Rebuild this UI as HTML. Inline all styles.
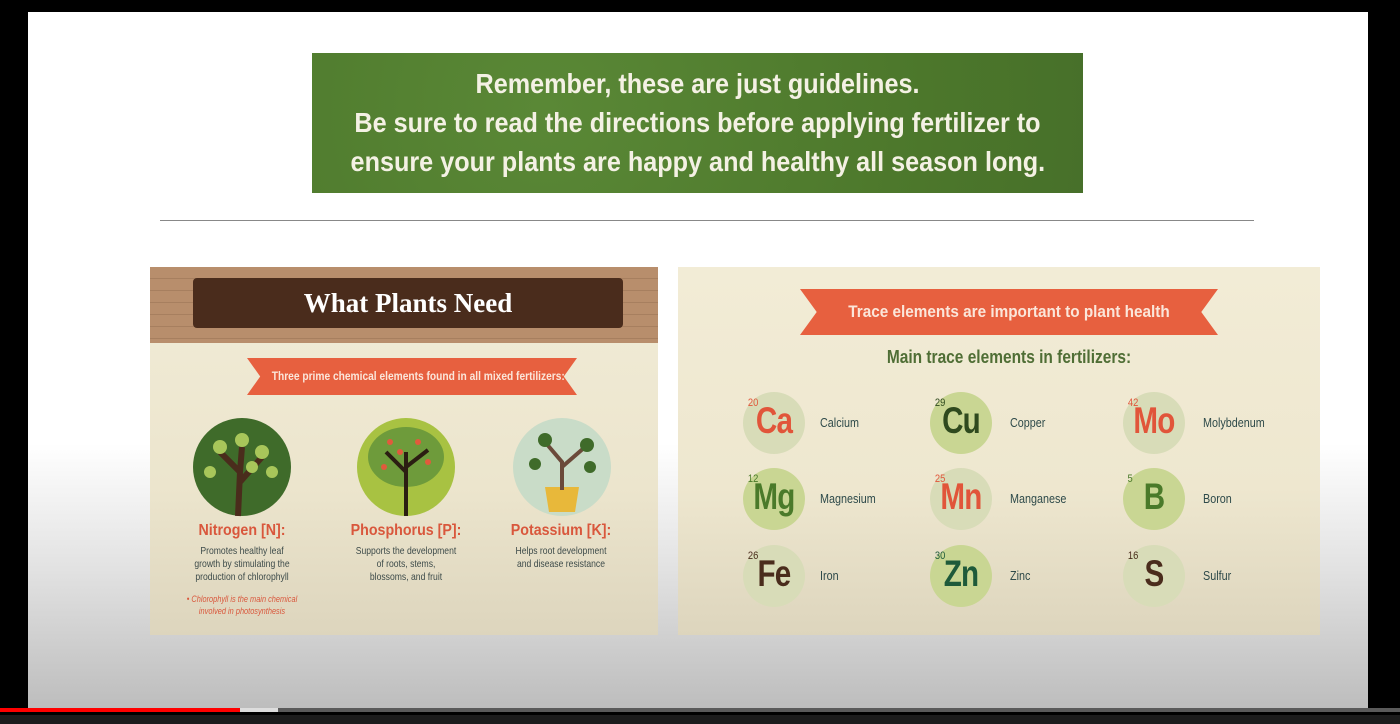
<!DOCTYPE html>
<html><head><meta charset="utf-8"><style>
*{margin:0;padding:0;box-sizing:border-box}
body{width:1400px;height:724px;overflow:hidden;background:#000;position:relative;font-family:"Liberation Sans",sans-serif}
.abs{position:absolute}
#slide{left:28px;top:12px;width:1340px;height:696px;background:linear-gradient(#fff 0%,#fff 62%,#e2e2e2 80%,#bdbdbd 100%)}
.c{text-align:center;white-space:nowrap}
.el{position:absolute;width:62px;height:62px;border-radius:50%;}
.sym{position:absolute;left:0;width:62px;top:8px;text-align:center;font-size:37px;font-weight:bold;letter-spacing:-1px;transform:scaleX(0.8)}
.num{position:absolute;left:4px;top:5px;font-size:11px;transform:scaleX(0.85)}
.nm{position:absolute;font-size:13px;color:#2e4a4a;white-space:nowrap;transform:scaleX(0.83);transform-origin:left center}
</style></head><body>
<div class="abs" id="slide"></div>
<div class="abs" style="left:312px;top:53px;width:771px;height:140px;background:radial-gradient(circle at 30% 40%,#5a8836,#4c772b 70%,#47702a)">
<div class="c" style="color:#f4f1e4;font-weight:bold;font-size:28px;line-height:39px;padding-top:11px;transform:scaleX(0.9)">Remember, these are just guidelines.<br>Be sure to read the directions before applying fertilizer to<br>ensure your plants are happy and healthy all season long.</div></div>
<div class="abs" style="left:160px;top:220px;width:1094px;height:1px;background:#888"></div>

<div class="abs" style="left:150px;top:267px;width:508px;height:368px;background:linear-gradient(#f1ecd7,#ece5cd 60%,#ddd5bd)">
 <div class="abs" style="left:0;top:0;width:508px;height:76px;background:repeating-linear-gradient(#b88e6c 0 11px,#a77f5f 11px 12px)"></div>
 <div class="abs" style="left:43px;top:11px;width:430px;height:50px;background:#4a2c1c;border-radius:4px"><div class="c" style="font-family:'Liberation Serif',serif;font-weight:bold;color:#fff;font-size:27px;line-height:50px">What Plants Need</div></div>
 <div class="abs" style="left:97px;top:91px;width:330px;height:37px;background:#e7603f;clip-path:polygon(0 0,100% 0,96% 50%,100% 100%,0 100%,4% 50%)"><div class="c" style="color:#fbe6da;font-weight:bold;font-size:12px;line-height:37px;transform:scaleX(0.85)">Three prime chemical elements found in all mixed fertilizers:</div></div>
 <svg class="abs" style="left:0;top:145px" width="508" height="110">
  <circle cx="92" cy="55" r="49" fill="#3f6b2a"/><path d="M88 104 L90 60 L70 40 M90 70 L112 45 M90 60 L92 35" stroke="#4a2c1c" stroke-width="6" fill="none"/>
  <g fill="#a8c65a"><circle cx="70" cy="35" r="7"/><circle cx="112" cy="40" r="7"/><circle cx="92" cy="28" r="7"/><circle cx="60" cy="60" r="6"/><circle cx="122" cy="60" r="6"/><circle cx="102" cy="55" r="6"/></g>
  <circle cx="256" cy="55" r="49" fill="#a8c242"/><ellipse cx="256" cy="45" rx="38" ry="30" fill="#6e9b3b"/><path d="M256 104 V40 M256 60 L236 40 M256 55 L278 38" stroke="#2b1e12" stroke-width="4" fill="none"/>
  <g fill="#e15a3c"><circle cx="240" cy="30" r="3"/><circle cx="268" cy="30" r="3"/><circle cx="278" cy="50" r="3"/><circle cx="234" cy="55" r="3"/><circle cx="250" cy="40" r="3"/></g>
  <circle cx="412" cy="55" r="49" fill="#c9dcc8"/><path d="M395 75 h34 l-4 25 h-26z" fill="#e8b83a"/><path d="M412 78 V50 L395 30 M412 55 L435 35" stroke="#6b4a3a" stroke-width="4" fill="none"/>
  <g fill="#3f6b2a"><circle cx="395" cy="28" r="7"/><circle cx="437" cy="33" r="7"/><circle cx="385" cy="52" r="6"/><circle cx="440" cy="55" r="6"/></g>
 </svg>
 <div class="abs c" style="left:22px;top:255px;width:140px;color:#d9573c;font-weight:bold;font-size:16px;transform:scaleX(0.89)">Nitrogen [N]:</div>
 <div class="abs c" style="left:22px;top:278px;width:140px;color:#3d4b4a;font-size:10.5px;line-height:13px;transform:scaleX(0.82)">Promotes healthy leaf<br>growth by stimulating the<br>production of chlorophyll</div>
 <div class="abs c" style="left:22px;top:326px;width:140px;color:#d9573c;font-style:italic;font-size:9px;line-height:12px;transform:scaleX(0.82)">• Chlorophyll is the main chemical<br>involved in photosynthesis</div>
 <div class="abs c" style="left:176px;top:255px;width:160px;color:#d9573c;font-weight:bold;font-size:16px;transform:scaleX(0.89)">Phosphorus [P]:</div>
 <div class="abs c" style="left:176px;top:278px;width:160px;color:#3d4b4a;font-size:10.5px;line-height:13px;transform:scaleX(0.82)">Supports the development<br>of roots, stems,<br>blossoms, and fruit</div>
 <div class="abs c" style="left:336px;top:255px;width:150px;color:#d9573c;font-weight:bold;font-size:16px;transform:scaleX(0.89)">Potassium [K]:</div>
 <div class="abs c" style="left:336px;top:278px;width:150px;color:#3d4b4a;font-size:10.5px;line-height:13px;transform:scaleX(0.82)">Helps root development<br>and disease resistance</div>
</div>

<div class="abs" style="left:678px;top:267px;width:642px;height:368px;background:linear-gradient(#f2ecd6,#eee7cf 60%,#ddd5bd)">
 <div class="abs" style="left:122px;top:22px;width:418px;height:46px;background:#e7603f;clip-path:polygon(0 0,100% 0,96% 50%,100% 100%,0 100%,4% 50%)"><div class="c" style="color:#fbe6da;font-weight:bold;font-size:17px;line-height:46px;transform:scaleX(0.9)">Trace elements are important to plant health</div></div>
 <div class="abs c" style="left:0;top:80px;width:662px;color:#4f6e35;font-weight:bold;font-size:18px;transform:scaleX(0.86)">Main trace elements in fertilizers:</div>
</div>
<div id="els"></div>
<div class="abs" style="left:0;top:708px;width:1400px;height:4px;background:#5a5a5a"></div>
<div class="abs" style="left:0;top:708px;width:278px;height:4px;background:#ddd"></div>
<div class="abs" style="left:0;top:708px;width:240px;height:4px;background:#f00"></div>
<div class="abs" style="left:0;top:715px;width:1400px;height:9px;background:#1c1c1c"></div>
<script>
const syms=["Ca","Cu","Mo","Mg","Mn","B","Fe","Zn","S"];
const nums=["20","29","42","12","25","5","26","30","16"];
const names=["Calcium","Copper","Molybdenum","Magnesium","Manganese","Boron","Iron","Zinc","Sulfur"];
const cols=["#e1553a","#2f4a1e","#e1553a","#4a7a2a","#e1553a","#4a7a2a","#4a2c1c","#1e5a3a","#4a2c1c"];
const bgs=["#d8dcb8","#c9d693","#d8dcb8","#c9d693","#d8dcb8","#c9d693","#d8dcb8","#c9d693","#d8dcb8"];
const cx=[774,961,1154],cy=[423,499,576],nx=[820,1010,1203];
const host=document.getElementById('els');
syms.forEach((s,i)=>{const c=i%3,r=Math.floor(i/3);
 const d=document.createElement('div');d.className='el';
 
 
 d.style.left=(cx[c]-31)+'px';d.style.top=(cy[r]-31)+'px';d.style.background=bgs[i];
 d.innerHTML='<div class="num" style="color:'+cols[i]+'">'+nums[i]+'</div><div class="sym" style="color:'+cols[i]+'">'+s+'</div>';
 host.appendChild(d);
 const n=document.createElement('div');n.className='nm';
 
 
 n.style.left=nx[c]+'px';n.style.top=(cy[r]-8)+'px';n.textContent=names[i];host.appendChild(n);});
</script>
</body></html>
